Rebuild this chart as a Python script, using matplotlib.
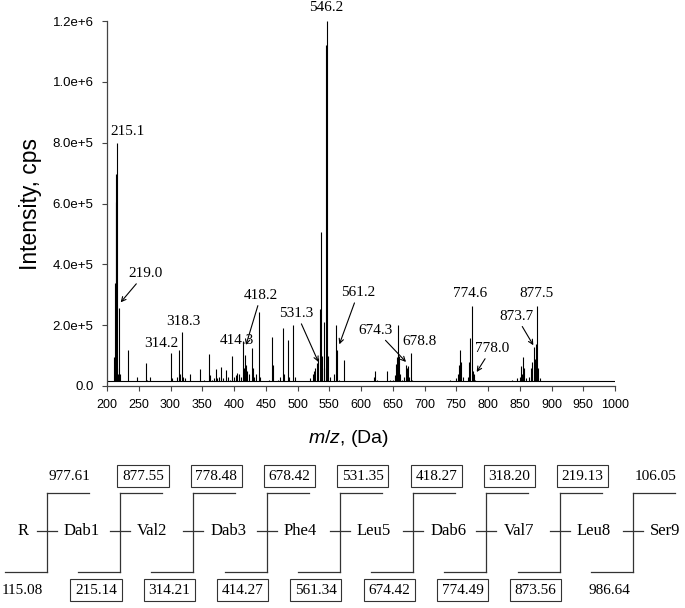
import numpy as np
import matplotlib
matplotlib.use('Agg')
import matplotlib.pyplot as plt

plt.rcParams['mathtext.fontset'] = 'custom'
plt.rcParams['mathtext.it'] = 'Liberation Sans:italic'
plt.rcParams['mathtext.rm'] = 'Liberation Sans'

# spectrum: m/z and intensity (x1000 cps)
peak_mz = [200.5, 203, 211.5, 212.3, 213.4, 214.2, 215.1, 216.3, 217.3, 218.9, 220.5, 222, 226,
           233.6, 240, 248, 254, 261, 263, 268, 272, 280, 287, 294, 297, 300.3, 302, 311, 313.4,
           315, 318.6, 320, 323, 326, 330, 335, 340, 346.5, 352, 355, 360.6, 362, 366, 369, 371.7,
           374, 377, 379.5, 383, 387.4, 390, 394, 397.4, 400, 403, 405, 408, 411, 413.7, 415,
           417.3, 419, 421, 424, 427.8, 430, 432, 435, 438.9, 441, 446, 450, 455, 460.4, 462,
           466, 470, 473, 476.6, 479, 484.5, 487, 493.5, 496, 500, 505, 510, 515, 520, 524, 526,
           528, 530, 532, 534.7, 537, 539, 541, 542, 544.8, 546.2, 548, 551, 554, 557, 560.1,
           561.7, 565, 573.3, 580, 586, 595, 605, 615, 620, 622, 625, 632, 638, 641.5, 645, 650,
           653, 655, 656.8, 658.8, 660, 662, 665, 668, 670.5, 672.5, 674.1, 676, 678.3, 681, 685,
           690, 700, 720, 735, 740, 745, 750, 753, 755, 756.5, 758, 760, 763, 768, 770.5, 772.2,
           774.9, 776, 778, 780, 783, 790, 805, 820, 828, 838, 842, 846, 850, 852, 854, 855.7,
           857, 860, 865, 868, 870, 872.5, 874, 876, 877.6, 879, 882, 885, 890]
peak_int = [20, 10, 95, 338, 696, 605, 800, 60, 40, 255, 40, 15, 12,
            118, 12, 30, 10, 77, 20, 28, 15, 12, 15, 10, 18, 110, 25, 30, 118,
            40, 178, 30, 25, 15, 40, 15, 12, 55, 20, 15, 105, 35, 20, 25, 55,
            25, 30, 64, 25, 53, 30, 20, 97, 30, 35, 43, 40, 30, 149, 60,
            101, 70, 50, 40, 125, 60, 30, 40, 243, 30, 15, 12, 20, 161, 70,
            15, 20, 30, 192, 40, 152, 30, 200, 30, 12, 10, 15, 15, 25, 40, 50,
            60, 76, 93, 254, 507, 100, 60, 210, 1120, 1200, 100, 30, 15, 40, 200,
            118, 20, 85, 15, 15, 10, 12, 15, 30, 50, 20, 10, 15, 50, 20, 20,
            35, 73, 95, 200, 100, 40, 20, 30, 70, 60, 65, 30, 108, 20, 10,
            8, 8, 10, 12, 20, 15, 25, 40, 70, 117, 80, 30, 15, 30, 80, 159,
            262, 50, 40, 20, 15, 10, 8, 12, 15, 20, 15, 25, 30, 65, 40, 95,
            60, 25, 30, 60, 80, 128, 90, 139, 262, 60, 25, 15, 8]

# labelled peaks
ann_labels = ['546.2', '215.1', '219.0', '314.2', '318.3', '414.3', '418.2', '531.3',
              '561.2', '674.3', '678.8', '774.6', '778.0', '873.7', '877.5']
# arrow tips (None = plain label)
ann_tip_mz = [None, None, 221.5, None, None, None, 418.9, 532.9,
              565.9, 670.9, None, None, 782.2, 871.4, None]
ann_tip_int = [None, None, 275, None, None, None, 135, 79,
               137, 79, None, None, 46, 134, None]
# label centres
ann_text_mz = [544.4, 232, 259.9, 286.1, 320.2, 405.3, 442.6, 498.7,
               595.8, 623.2, 692, 771.7, 805.8, 844.2, 876.8]
ann_text_int = [1243, 836, 370, 140, 211, 151, 299, 239,
                308, 184, 146, 305, 124, 230, 305]

x_ticks = list(range(200, 1001, 50))
y_ticks = [0, 200e3, 400e3, 600e3, 800e3, 1000e3, 1200e3]
y_ticklabels = ['0.0', '2.0e+5', '4.0e+5', '6.0e+5', '8.0e+5', '1.0e+6', '1.2e+6']

# fragmentation scheme
residues = ['R', 'Dab1', 'Val2', 'Dab3', 'Phe4', 'Leu5', 'Dab6', 'Val7', 'Leu8', 'Ser9']
top_ions = ['977.61', '877.55', '778.48', '678.42', '531.35', '418.27', '318.20', '219.13', '106.05']
top_boxed = [False, True, True, True, True, True, True, True, False]
bottom_ions = ['115.08', '215.14', '314.21', '414.27', '561.34', '674.42', '774.49', '873.56', '986.64']
bottom_boxed = [False, True, True, True, True, True, True, True, False]

serif = ['Liberation Serif', 'DejaVu Serif']
sans = ['Liberation Sans', 'DejaVu Sans']

fig = plt.figure(figsize=(6.85, 6.08), dpi=100)
ax = fig.add_axes([107/685, 1-386/608, 508/685, 365/608])

base = 15e3
mz = np.array(peak_mz)
inten = np.array(peak_int) * 1e3
ax.vlines(mz, base, np.maximum(inten, base), color='black', lw=0.8)
ax.axhline(base, color='black', lw=0.8)

for i, lab in enumerate(ann_labels):
    tx, ty = ann_text_mz[i], ann_text_int[i] * 1e3
    if ann_tip_mz[i] is None:
        ax.text(tx, ty, lab, ha='center', va='center', fontsize=11, family=serif, clip_on=False)
    else:
        ax.annotate(lab, xy=(ann_tip_mz[i], ann_tip_int[i] * 1e3), xytext=(tx, ty),
                    ha='center', va='center', fontsize=11, family=serif,
                    arrowprops=dict(arrowstyle='->', lw=0.8, color='black',
                                    shrinkA=1, shrinkB=0, mutation_scale=8))

ax.set_xlim(200, 1000)
ax.set_ylim(0, 1.2e6)
ax.set_xticks(x_ticks)
ax.set_xticklabels([str(t) for t in x_ticks], fontsize=9, family=sans)
ax.set_yticks(y_ticks)
ax.set_yticklabels(y_ticklabels, fontsize=9.5, family=sans)
ax.tick_params(direction='out', length=3.6, width=0.8, color='#444444', pad=6)
for s in ['top', 'right']:
    ax.spines[s].set_visible(False)
for s in ['left', 'bottom']:
    ax.spines[s].set_color('#444444')
    ax.spines[s].set_linewidth(0.9)
ax.set_ylabel('Intensity, cps', fontsize=16.5, family=sans, labelpad=8)
ax.set_xlabel('$m/z$, (Da)', fontsize=14, family=sans)
ax.xaxis.set_label_coords(0.476, -0.115)

# scheme drawn in pixel space
sx = fig.add_axes([0, 0, 1, 1])
sx.set_xlim(0, 685)
sx.set_ylim(608, 0)
sx.axis('off')
sx.patch.set_visible(False)

x0, step = 46.7, 73.3
y_top, y_mid, y_bot = 493, 531, 572
arm = 42
for k in range(len(top_ions)):
    xs = x0 + k * step
    sx.plot([xs, xs], [y_top, y_bot], color='#333333', lw=0.9)
    sx.plot([xs, xs + arm], [y_top, y_top], color='#333333', lw=0.9)
    sx.plot([xs - arm, xs], [y_bot, y_bot], color='#333333', lw=0.9)
    sx.plot([xs - 10, xs + 10], [y_mid, y_mid], color='#333333', lw=0.9)
    box = dict(boxstyle='square,pad=0.3', fc='white', ec='#333333', lw=0.8)
    sx.text(xs + 23, 476, top_ions[k], ha='center', va='center', fontsize=11, family=serif,
            bbox=box if top_boxed[k] else None)
    sx.text(xs - 24, 590, bottom_ions[k], ha='center', va='center', fontsize=11, family=serif,
            bbox=box if bottom_boxed[k] else None)

sx.text(x0 - 18, y_mid, residues[0], ha='right', va='center', fontsize=12, family=serif)
for k, r in enumerate(residues[1:]):
    sx.text(x0 + k * step + 17, y_mid, r, ha='left', va='center', fontsize=12, family=serif)

fig.savefig('out.png', dpi=100)
